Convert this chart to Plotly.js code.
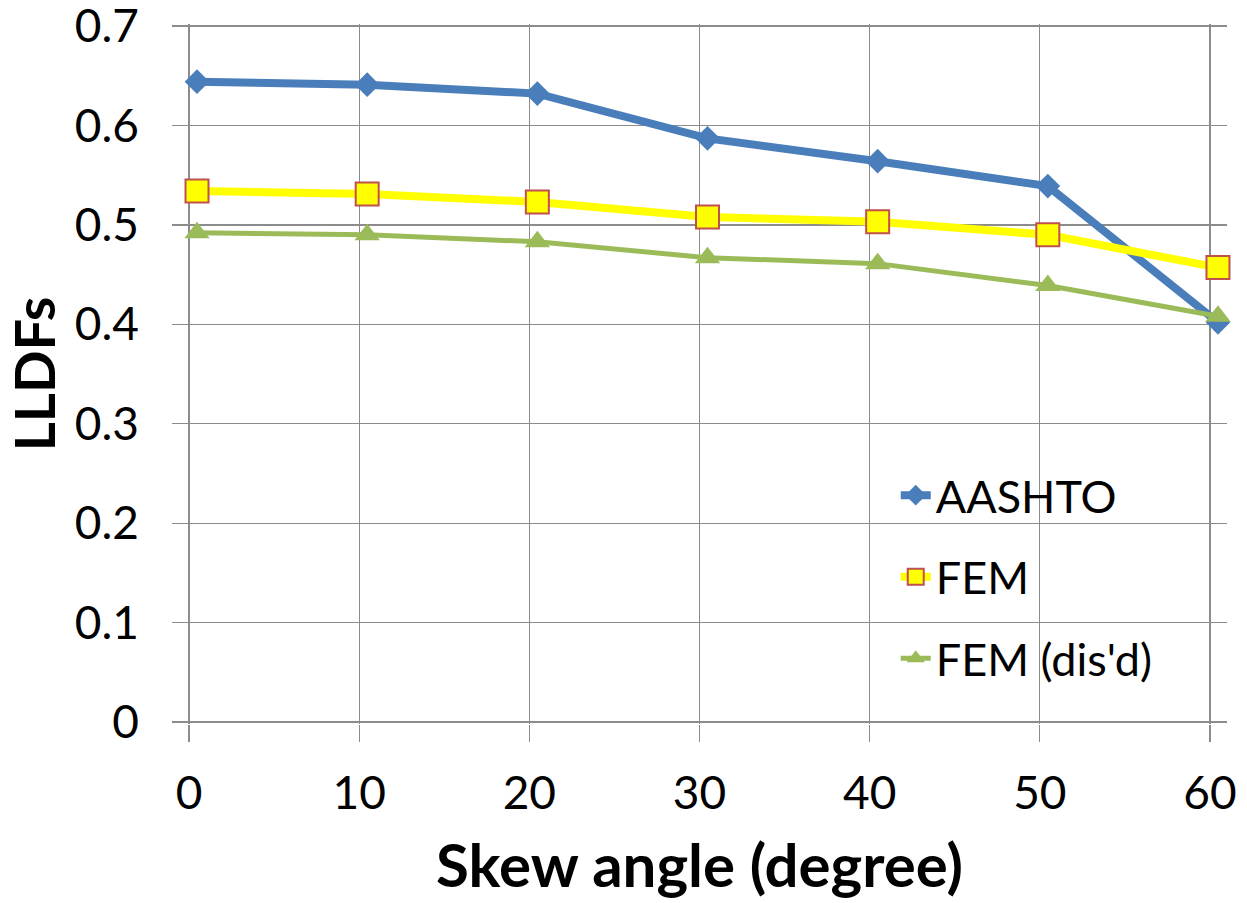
<!DOCTYPE html>
<html>
<head>
<meta charset="utf-8">
<script src="https://cdn.plot.ly/plotly-3.0.1.min.js"></script>
<style>html,body{margin:0;padding:0;background:#fff}#chart{width:1247px;height:903px}</style>
</head>
<body>
<div id="chart"></div>
<script>
const skewAngles = [0, 10, 20, 30, 40, 50, 60];
const aashto = [0.644, 0.641, 0.632, 0.587, 0.564, 0.539, 0.402];
const fem = [0.534, 0.531, 0.523, 0.508, 0.503, 0.490, 0.457];
const femDisd = [0.492, 0.490, 0.483, 0.467, 0.461, 0.439, 0.408];
const xTicks = [0, 10, 20, 30, 40, 50, 60];
const yTicks = [0, 0.1, 0.2, 0.3, 0.4, 0.5, 0.6, 0.7];
const seriesNames = ['AASHTO', 'FEM', "FEM (dis'd)"];

const font = 'Lato, "Open Sans", sans-serif';
const grid = '#8c8c8c';

const traces = [
  // invisible trace that anchors the gridded axis pair (x, y)
  {x: skewAngles, y: aashto, xaxis: 'x', yaxis: 'y', mode: 'markers',
   marker: {opacity: 0}, showlegend: false, hoverinfo: 'skip'},
  {x: skewAngles, y: aashto, name: seriesNames[0], xaxis: 'x2', legendgroup: 'a',
   mode: 'lines+markers', line: {color: '#4A7EBB', width: 8},
   marker: {symbol: 'diamond', size: 19, color: '#4A7EBB'}, cliponaxis: false},
  {x: skewAngles, y: fem, name: seriesNames[1], xaxis: 'x2', legendgroup: 'b',
   mode: 'lines+markers', line: {color: '#FFFF00', width: 8},
   marker: {symbol: 'square', size: 23, color: '#FFFF00', line: {color: '#C0504D', width: 2}}, cliponaxis: false},
  {x: skewAngles, y: femDisd, name: seriesNames[2], xaxis: 'x2', legendgroup: 'c',
   mode: 'lines+markers', line: {color: '#9BBB59', width: 5},
   marker: {symbol: 'triangle-up', size: 22, color: '#9BBB59'}, cliponaxis: false}
];

const layout = {
  width: 1247, height: 903,
  margin: {l: 172, r: 20, t: 24, b: 179},
  paper_bgcolor: '#fff', plot_bgcolor: '#fff',
  font: {family: font, color: '#000', size: 46},
  showlegend: true,
  legend: {x: 0.686, y: 0.378, xanchor: 'left', yanchor: 'top',
           bgcolor: 'rgba(0,0,0,0)', font: {size: 45, family: font},
           traceorder: 'grouped', tracegroupgap: 20},
  xaxis: {range: [-1, 61], tickvals: xTicks, ticktext: xTicks.map(String),
          showgrid: true, gridcolor: grid, gridwidth: 1.3, zeroline: false, showline: false,
          ticks: 'outside', ticklen: 17, tickcolor: grid, tickwidth: 1.3,
          tickfont: {size: 46, family: font}, ticklabelstandoff: 12, ticklabeloverflow: 'allow',
          title: {text: '<b>Skew angle (degree)</b>', font: {size: 60, family: font}, standoff: 26}},
  xaxis2: {range: [-1.47, 60.53], overlaying: 'x', visible: false},
  yaxis: {range: [-0.002, 0.702], tickvals: yTicks, ticktext: yTicks.map(v => v === 0 ? '0' : v.toFixed(1)),
          showgrid: true, gridcolor: grid, gridwidth: 1.3, zeroline: false, showline: false,
          ticks: '', tickfont: {size: 46, family: font}, ticklabelstandoff: 32, ticklabeloverflow: 'allow',
          title: {text: '<b>LLDFs</b>', font: {size: 56, family: font}, standoff: 10}}
};

Plotly.newPlot('chart', traces, layout, {displayModeBar: false, staticPlot: true});
</script>
</body>
</html>
